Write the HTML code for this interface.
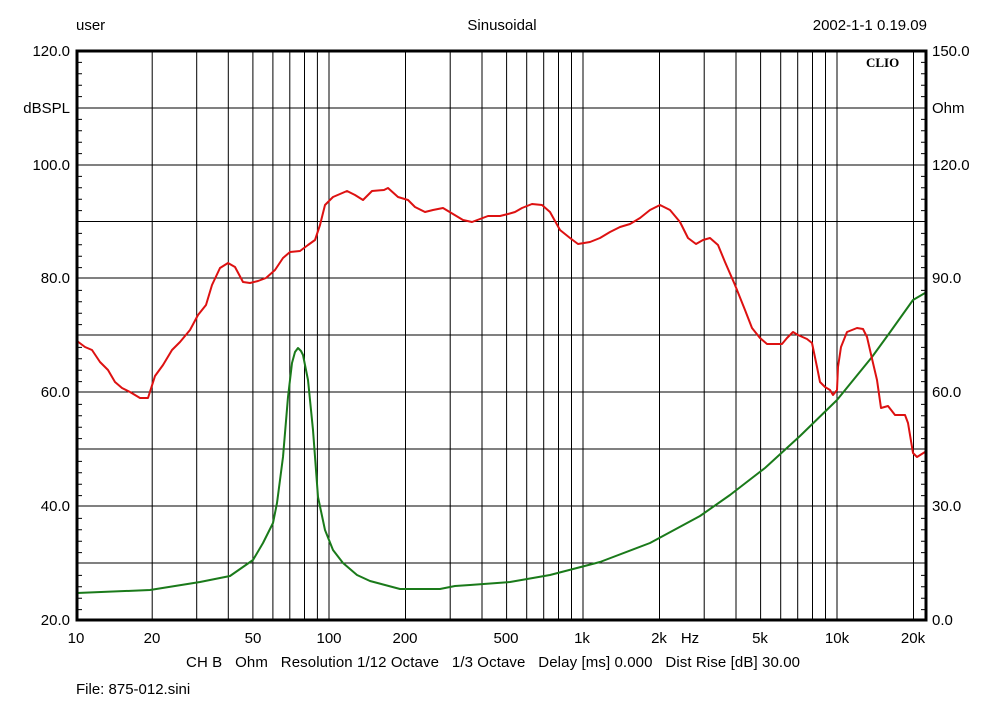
<!DOCTYPE html>
<html><head><meta charset="utf-8"><style>
body{margin:0;background:#fff}
svg text{font-family:"Liberation Sans",sans-serif;font-size:15px;fill:#000}
</style></head><body>
<svg width="1002" height="722" viewBox="0 0 1002 722" xmlns="http://www.w3.org/2000/svg">
<rect width="1002" height="722" fill="#fff"/>
<g stroke="#000" stroke-width="1">
<line x1="152.2" y1="51" x2="152.2" y2="620"/><line x1="196.7" y1="51" x2="196.7" y2="620"/><line x1="228.3" y1="51" x2="228.3" y2="620"/><line x1="252.9" y1="51" x2="252.9" y2="620"/><line x1="272.9" y1="51" x2="272.9" y2="620"/><line x1="289.8" y1="51" x2="289.8" y2="620"/><line x1="304.5" y1="51" x2="304.5" y2="620"/><line x1="317.4" y1="51" x2="317.4" y2="620"/><line x1="329" y1="51" x2="329" y2="620"/>
<line x1="405.5" y1="51" x2="405.5" y2="620"/><line x1="450.2" y1="51" x2="450.2" y2="620"/><line x1="482" y1="51" x2="482" y2="620"/><line x1="506.6" y1="51" x2="506.6" y2="620"/><line x1="526.7" y1="51" x2="526.7" y2="620"/><line x1="543.7" y1="51" x2="543.7" y2="620"/><line x1="558.5" y1="51" x2="558.5" y2="620"/><line x1="571.5" y1="51" x2="571.5" y2="620"/><line x1="583" y1="51" x2="583" y2="620"/>
<line x1="659.5" y1="51" x2="659.5" y2="620"/><line x1="704.2" y1="51" x2="704.2" y2="620"/><line x1="736" y1="51" x2="736" y2="620"/><line x1="760.6" y1="51" x2="760.6" y2="620"/><line x1="780.7" y1="51" x2="780.7" y2="620"/><line x1="797.7" y1="51" x2="797.7" y2="620"/><line x1="812.5" y1="51" x2="812.5" y2="620"/><line x1="825.5" y1="51" x2="825.5" y2="620"/><line x1="837" y1="51" x2="837" y2="620"/>
<line x1="913.5" y1="51" x2="913.5" y2="620"/>
<line x1="77" y1="108" x2="926" y2="108"/><line x1="77" y1="165" x2="926" y2="165"/><line x1="77" y1="221.5" x2="926" y2="221.5"/><line x1="77" y1="278" x2="926" y2="278"/><line x1="77" y1="335" x2="926" y2="335"/><line x1="77" y1="392" x2="926" y2="392"/><line x1="77" y1="449" x2="926" y2="449"/><line x1="77" y1="506" x2="926" y2="506"/><line x1="77" y1="563" x2="926" y2="563"/>
</g>
<g stroke="#000" stroke-width="1">
<path d="M77 62.4h5M77 73.8h5M77 85.2h5M77 96.6h5M77 119.4h5M77 130.8h5M77 142.2h5M77 153.6h5M77 176.4h5M77 187.8h5M77 199.2h5M77 210.6h5M77 233.4h5M77 244.8h5M77 256.2h5M77 267.6h5M77 290.4h5M77 301.8h5M77 313.2h5M77 324.6h5M77 347.4h5M77 358.8h5M77 370.2h5M77 381.6h5M77 404.4h5M77 415.8h5M77 427.2h5M77 438.6h5M77 461.4h5M77 472.8h5M77 484.2h5M77 495.6h5M77 518.4h5M77 529.8h5M77 541.2h5M77 552.6h5M77 575.4h5M77 586.8h5M77 598.2h5M77 609.6h5"/>
<path d="M926 62.4h-5M926 73.8h-5M926 85.2h-5M926 96.6h-5M926 119.4h-5M926 130.8h-5M926 142.2h-5M926 153.6h-5M926 176.4h-5M926 187.8h-5M926 199.2h-5M926 210.6h-5M926 233.4h-5M926 244.8h-5M926 256.2h-5M926 267.6h-5M926 290.4h-5M926 301.8h-5M926 313.2h-5M926 324.6h-5M926 347.4h-5M926 358.8h-5M926 370.2h-5M926 381.6h-5M926 404.4h-5M926 415.8h-5M926 427.2h-5M926 438.6h-5M926 461.4h-5M926 472.8h-5M926 484.2h-5M926 495.6h-5M926 518.4h-5M926 529.8h-5M926 541.2h-5M926 552.6h-5M926 575.4h-5M926 586.8h-5M926 598.2h-5M926 609.6h-5"/>
</g>
<polyline fill="none" stroke="#1a7a1a" stroke-width="2" stroke-linejoin="round" points="77,593 150,590 200,582 230,576 253,560 263,543 273,523 277,503 283,457 288,397 292,363 295,352 298,348 301,351 303,355 308,380 313,430 318,497 325,530 333,550 343,563 357,575 370,581 400,589 440,589 455,586 470,585 510,582 550,575 600,562 650,543 700,516 730,495 765,468 800,436 837,400 872,357 888,335 913,300 925,293"/>
<polyline fill="none" stroke="#dd1111" stroke-width="2" stroke-linejoin="round" points="77,341 85,347 92,350 100,362 108,370 115,382 122,388 130,392 140,398 148,398 155,376 163,365 172,350 180,342 190,330 198,315 206,305 212,285 220,268 228,263 235,267 243,282 250,283 258,281 266,278 275,270 283,258 290,252 300,251 308,245 315,240 320,225 325,205 333,197 347,191 355,195 363,200 372,191 384,190 388,188 398,197 408,200 415,207 425,212 433,210 443,208 453,214 463,220 472,222 480,219 488,216 500,216 508,214 515,212 522,208 532,204 542,205 550,212 560,230 570,238 578,244 590,242 600,238 610,232 620,227 630,224 640,218 650,210 660,205 670,210 680,222 688,238 696,244 703,240 710,238 718,245 725,262 735,285 745,310 752,328 760,338 767,344 782,344 787,338 793,332 798,335 807,339 812,343 817,367 820,382 825,387 830,390 833,395 837,390 838,367 841,347 847,332 857,328 863,329 867,337 873,363 877,380 881,408 888,406 895,415 905,415 908,423 913,453 917,457 925,452"/>
<rect x="77" y="51" width="849" height="569" fill="none" stroke="#000" stroke-width="3"/>
<text x="866" y="67" style="font-family:'Liberation Serif',serif;font-weight:bold;font-size:13px">CLIO</text>
<g text-anchor="end">
<text x="70" y="56">120.0</text><text x="70" y="113">dBSPL</text><text x="70" y="170">100.0</text><text x="70" y="283">80.0</text><text x="70" y="397">60.0</text><text x="70" y="511">40.0</text><text x="70" y="625">20.0</text>
</g>
<g>
<text x="932" y="56">150.0</text><text x="932" y="113">Ohm</text><text x="932" y="170">120.0</text><text x="932" y="283">90.0</text><text x="932" y="397">60.0</text><text x="932" y="511">30.0</text><text x="932" y="625">0.0</text>
</g>
<g text-anchor="middle">
<text x="76" y="643">10</text><text x="152" y="643">20</text><text x="253" y="643">50</text><text x="329" y="643">100</text><text x="405" y="643">200</text><text x="506" y="643">500</text><text x="582" y="643">1k</text><text x="659" y="643">2k</text><text x="690" y="643">Hz</text><text x="760" y="643">5k</text><text x="837" y="643">10k</text><text x="913" y="643">20k</text>
</g>
<text x="76" y="30">user</text>
<text x="502" y="30" text-anchor="middle">Sinusoidal</text>
<text x="927" y="30" text-anchor="end">2002-1-1 0.19.09</text>
<text x="186" y="667" textLength="614" lengthAdjust="spacing" xml:space="preserve">CH B   Ohm   Resolution 1/12 Octave   1/3 Octave   Delay [ms] 0.000   Dist Rise [dB] 30.00</text>
<text x="76" y="694">File: 875-012.sini</text>
</svg>
</body></html>
